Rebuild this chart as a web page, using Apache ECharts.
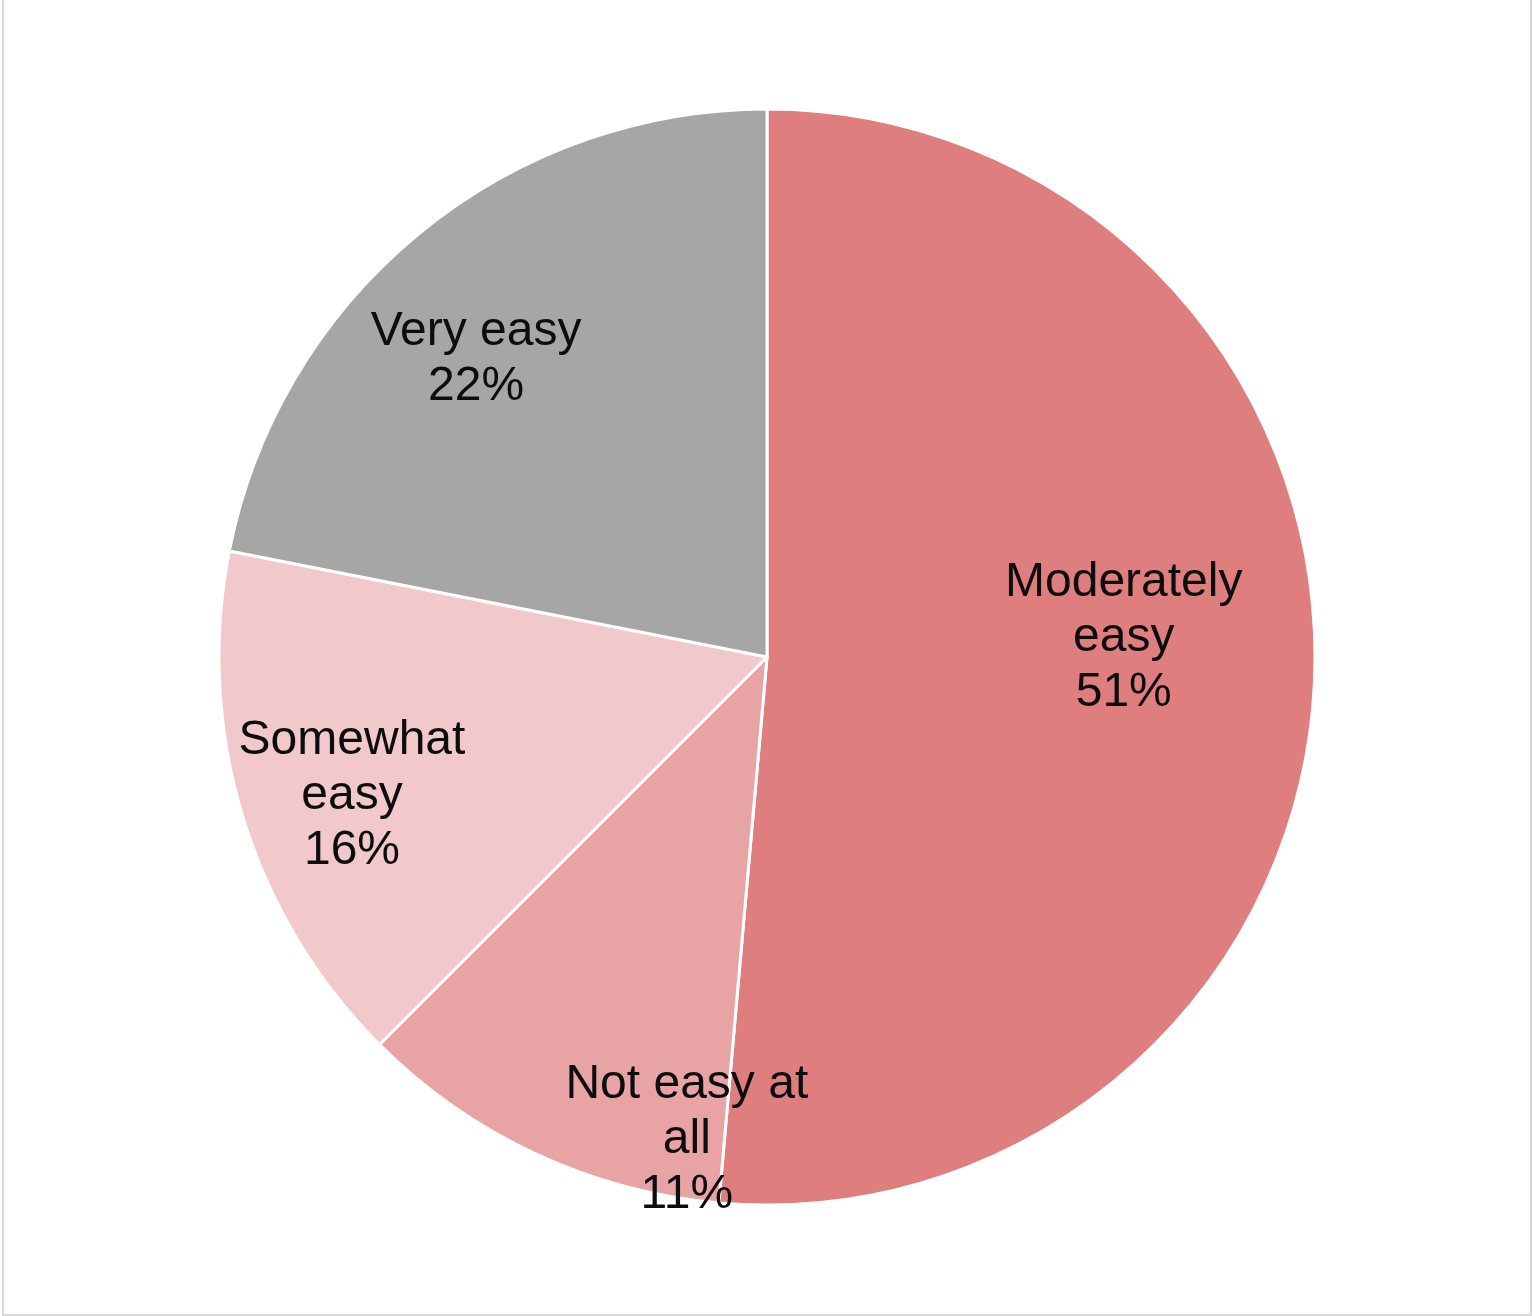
<!DOCTYPE html>
<html>
<head>
<meta charset="utf-8">
<script src="https://cdn.jsdelivr.net/npm/echarts@6/dist/echarts.min.js"></script>
<style>
  html, body { margin: 0; padding: 0; background: #fff; }
  #frame {
    position: absolute; left: 2px; top: -2px;
    width: 1526px; height: 1314px;
    border: 2px solid #d9d9d9;
  }
  #chart { position: absolute; left: 0; top: 0; width: 1532px; height: 1316px; }
</style>
</head>
<body>
<div id="frame"></div>
<div id="chart"></div>
<script>
// categories, clockwise from 12 o'clock
const categories = ["Moderately easy", "Not easy at all", "Somewhat easy", "Very easy"];
// share of answers, %
const shares = [51.4, 11.1, 15.6, 21.9];
// how the label text is wrapped
const labelText = ["Moderately\neasy", "Not easy at\nall", "Somewhat\neasy", "Very easy"];

const colors = ["#df7e7e", "#e8a4a5", "#f2c9ca", "#a6a6a6"];
// nudges from the default inside position (Excel best fit)
const labelShift = [[80, -31], [37, 232], [-150, 58], [-115, -84]];

const myChart = echarts.init(document.getElementById("chart"));
myChart.setOption({
  animation: false,
  color: colors,
  series: [
    {
      type: "pie",
      center: [767, 657],
      radius: [0, 548],
      startAngle: 90,
      clockwise: true,
      avoidLabelOverlap: false,
      itemStyle: { borderColor: "#fff", borderWidth: 3 },
      label: {
        show: true,
        position: "inside",
        align: "center",
        verticalAlign: "middle",
        fontFamily: "Liberation Sans, Arial, sans-serif",
        fontSize: 48,
        lineHeight: 55,
        color: "#0d0d0d",
        formatter: (p) => labelText[p.dataIndex] + "\n" + Math.round(p.value) + "%",
      },
      labelLine: { show: false },
      labelLayout: (p) => ({ dx: labelShift[p.dataIndex][0], dy: labelShift[p.dataIndex][1] }),
      emphasis: { disabled: true },
      data: categories.map((name, i) => ({ name: name, value: shares[i] })),
    },
  ],
});
</script>
</body>
</html>
